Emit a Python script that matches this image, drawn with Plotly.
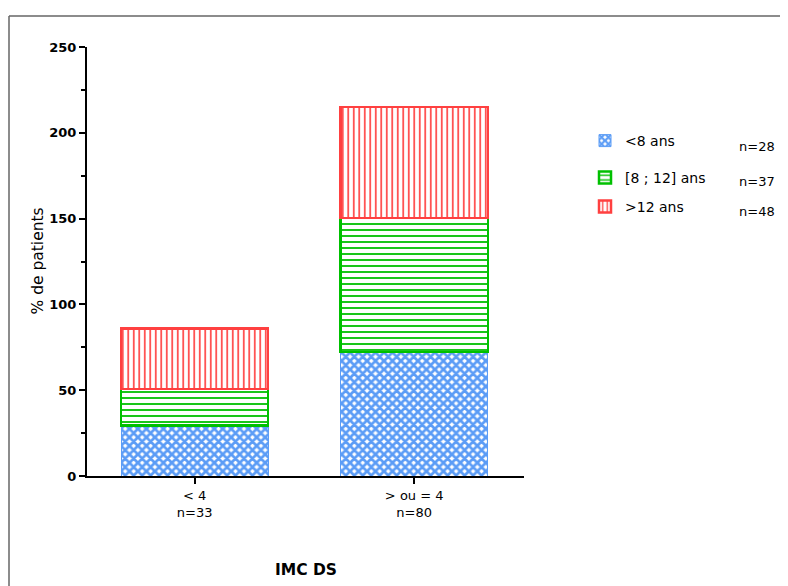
import plotly.graph_objects as go

categories = ["< 4<br>n=33", "> ou = 4<br>n=80"]
series_names = ["<8 ans", "[8 ; 12] ans", ">12 ans"]
series_n = ["n=28", "n=37", "n=48"]
vals_lt8 = [29.3, 72.3]
vals_8_12 = [21.4, 78.0]
vals_gt12 = [35.3, 64.7]
y_ticks = [0, 50, 100, 150, 200, 250]
y_minor = [25, 75, 125, 175, 225]

FONT = "DejaVu Sans"
W, H = 780, 578
L, R, T, B = 79, 264, 39, 110
PW, PH = W - L - R, H - T - B


def px(xp):
    return (xp - L) / PW


def py(yp):
    return (H - B - yp) / PH


colors = ["#5B9CF6", "#00C000", "#FF4040"]
patterns = [
    dict(shape="x", fgcolor="#5B9CF6", bgcolor="white", size=6, solidity=0.7, fillmode="replace"),
    dict(shape="-", fgcolor="#00C000", bgcolor="white", size=6, solidity=0.3, fillmode="replace"),
    dict(shape="|", fgcolor="#FF4040", bgcolor="white", size=5.5, solidity=0.3, fillmode="replace"),
]
line_w = [1, 2.5, 2.5]
series_vals = [vals_lt8, vals_8_12, vals_gt12]
legend_ids = ["legend", "legend2", "legend3"]
legend_rows = [133, 170, 199]

fig = go.Figure()
for name, vals, col, pat, lw, lid in zip(series_names, series_vals, colors, patterns, line_w, legend_ids):
    fig.add_trace(go.Bar(
        x=[0, 1], y=vals, name=name, width=0.67, legend=lid,
        marker=dict(color=col, line=dict(color=col, width=lw), pattern=pat),
    ))

leg_common = dict(xanchor="left", yanchor="middle", font=dict(size=14, family=FONT),
                  bgcolor="rgba(0,0,0,0)", itemwidth=30)
legends = {}
for lid, row in zip(legend_ids, legend_rows):
    legends[lid] = dict(x=px(577), y=py(row), **leg_common)

fig.update_layout(
    barmode="stack",
    width=W, height=H,
    margin=dict(l=L, r=R, t=T, b=B),
    paper_bgcolor="white", plot_bgcolor="white",
    font=dict(family=FONT, size=13, color="black"),
    showlegend=True,
    **legends,
    xaxis=dict(
        range=[-0.49, 1.5], tickmode="array", tickvals=[0, 1], ticktext=categories,
        showline=True, linecolor="black", linewidth=2, ticks="outside",
        ticklen=6, tickwidth=2, tickcolor="black", showgrid=False, zeroline=False,
        tickfont=dict(size=13, family=FONT), automargin=False,
    ),
    yaxis=dict(
        range=[0, 250], tickmode="array", tickvals=y_ticks,
        ticktext=[f"<b>{v}</b>" for v in y_ticks],
        showline=True, linecolor="black", linewidth=2, ticks="outside",
        ticklen=6, tickwidth=2, tickcolor="black", showgrid=False, zeroline=False,
        tickfont=dict(size=13, family=FONT), automargin=False,
        minor=dict(tickvals=y_minor, ticks="outside", ticklen=4, tickwidth=2,
                   tickcolor="black", showgrid=False),
    ),
)

# axis titles
fig.add_annotation(xref="paper", yref="paper", x=0.5, y=py(562), text="<b>IMC DS</b>",
                   showarrow=False, xanchor="center", yanchor="middle",
                   font=dict(size=15.5, family=FONT))
fig.add_annotation(xref="paper", yref="paper", x=px(29), y=0.5, text="% de patients",
                   showarrow=False, xanchor="center", yanchor="middle", textangle=-90,
                   font=dict(size=15.5, family=FONT))

# legend n-counts
for n, row in zip(series_n, [138, 173, 203]):
    fig.add_annotation(xref="paper", yref="paper", x=px(729), y=py(row),
                       text=n, showarrow=False, xanchor="left", yanchor="middle",
                       font=dict(size=13, family=FONT))

# frame
fig.add_shape(type="line", xref="paper", yref="paper",
              x0=px(1), x1=px(W), y0=py(8), y1=py(8),
              line=dict(color="#666666", width=1.5))
fig.add_shape(type="line", xref="paper", yref="paper",
              x0=px(1), x1=px(1), y0=py(8), y1=py(H),
              line=dict(color="#666666", width=1.5))

fig.write_html("out.html", config=dict(displayModeBar=False))
